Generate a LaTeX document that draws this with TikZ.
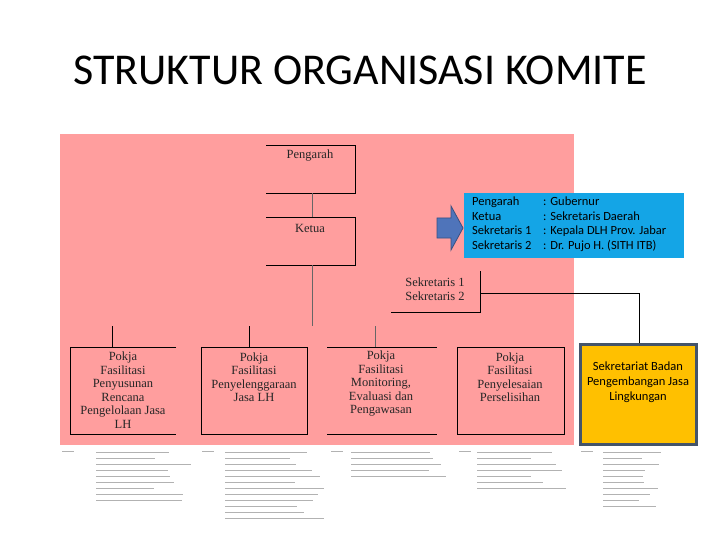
\documentclass[tikz,border=0pt]{standalone}
\usepackage{fontspec}
\setmainfont{Liberation Serif}
\newfontfamily\calfont{Carlito}
\definecolor{pinkbg}{HTML}{FF9E9E}
\definecolor{bluebox}{HTML}{14A5E6}
\definecolor{arrowblue}{HTML}{4F74BA}
\definecolor{yel}{HTML}{FFC000}
\definecolor{slate}{HTML}{44546A}
\begin{document}
\begin{tikzpicture}[x=1pt,y=-1pt,
  ln/.style={draw=black,line width=0.8pt},
  thin/.style={draw=black!60,line width=0.5pt},
  lbl/.style={font=\fontsize{12.5}{13.5}\selectfont,align=center,text=black!85},
  junk/.style={draw=gray!60,line width=0.8pt}]
\useasboundingbox (0,0) rectangle (720,540);
\fill[white] (0,0) rectangle (720,540);
\node (title) at (360,70) {\calfont\fontsize{44}{48}\selectfont STRUKTUR ORGANISASI KOMITE};
\fill[pinkbg] (60,134) rectangle (574,445);
% Pengarah
\coordinate (p1) at (266,145); \coordinate (p2) at (355,145);
\coordinate (p3) at (355,193); \coordinate (p4) at (266,193);
\draw[ln] (p1) -- (p2) -- (p3) -- (p4);
\node[lbl] (peng) at (310,156) {Pengarah};
% Ketua
\coordinate (k1) at (266,217); \coordinate (k2) at (355,217);
\coordinate (k3) at (355,265); \coordinate (k4) at (266,265);
\draw[ln] (k1) -- (k2) -- (k3) -- (k4);
\node[lbl] (ket) at (310,228) {Ketua};
\coordinate (pc) at (312,193); \coordinate (kc) at (312,217);
\draw[thin] (pc) -- (kc);
\coordinate (kb) at (312,265); \coordinate (ke) at (312,326);
\draw[thin] (kb) -- (ke);
% Sekretaris
\coordinate (s1) at (480,271); \coordinate (s2) at (480,312); \coordinate (s3) at (391,312);
\draw[ln] (s1) -- (s2) -- (s3);
\node[lbl,align=center] (sek) at (435,289) {Sekretaris 1\\Sekretaris 2};
\coordinate (sm) at (480,293); \coordinate (sr) at (639,293); \coordinate (yt) at (639,355);
% Pokja boxes
\coordinate (a1) at (176,347); \coordinate (a2) at (70,347); \coordinate (a3) at (70,434); \coordinate (a4) at (176,434);
\draw[ln] (a1) -- (a2) -- (a3) -- (a4);
\node[lbl] (pk1) at (123,390) {Pokja\\Fasilitasi\\Penyusunan\\Rencana\\Pengelolaan Jasa\\LH};
\draw[ln] (201,347) rectangle (307,434);
\node[lbl] (pk2) at (254,377) {Pokja\\Fasilitasi\\Penyelenggaraan\\Jasa LH};
\coordinate (c1) at (327,347); \coordinate (c2) at (437,347);
\coordinate (c3) at (327,434); \coordinate (c4) at (437,434);
\draw[ln] (c1) -- (c2); \draw[ln] (c3) -- (c4);
\node[lbl] (pk3) at (381,384) {Pokja\\Fasilitasi\\Monitoring,\\Evaluasi dan\\Pengawasan};
\draw[ln] (457,347) rectangle (564,434);
\node[lbl] (pk4) at (510,377) {Pokja\\Fasilitasi\\Penyelesaian\\Perselisihan};
% stubs
\draw[ln] (112,326) -- (112,347);
\draw[ln] (249,326) -- (249,347);
\draw[thin] (375,326) -- (375,347);
% blue box
\fill[bluebox] (464,193) rectangle (684,258);
\node[anchor=north west,inner sep=0pt,font=\calfont\fontsize{12.5}{14.5}\selectfont,align=left] (bl) at (472,197) {Pengarah\\Ketua\\Sekretaris 1\\Sekretaris 2};
\node[anchor=north west,inner sep=0pt,font=\calfont\fontsize{12.5}{14.5}\selectfont,align=left] (br) at (543,197) {: Gubernur\\: Sekretaris Daerah\\: Kepala DLH Prov. Jabar\\: Dr. Pujo H. (SITH ITB)};
% block arrow
\fill[arrowblue,draw=arrowblue!70!black,line width=0.8pt] (437,218) -- (451,218) -- (451,206) -- (463,228) -- (451,250) -- (451,238) -- (437,238) -- cycle;
% connector then yellow box
\draw[ln] (sm) -- (sr) -- (yt);
\node[draw=slate,line width=3pt,fill=yel,minimum width=116pt,minimum height=100pt,inner sep=0pt] (yb) at (638,394) {};
\node[font=\calfont\fontsize{12.5}{15}\selectfont,align=center] (ybt) at (638,382) {Sekretariat Badan\\Pengembangan Jasa\\Lingkungan};
% tiny illegible lines at bottom
\foreach \x/\w/\n/\l in {96/95/9/62, 225/100/12/202, 351/95/5/331, 477/90/7/459, 603/60/10/581}{
  \draw[junk] (\l,451) -- ++(12,0);
  \foreach \i in {1,...,\n}{\draw[junk] (\x,446+\i*6) -- ++(\w*0.6+rnd*\w*0.4,0);}
}
\end{tikzpicture}
\end{document}
